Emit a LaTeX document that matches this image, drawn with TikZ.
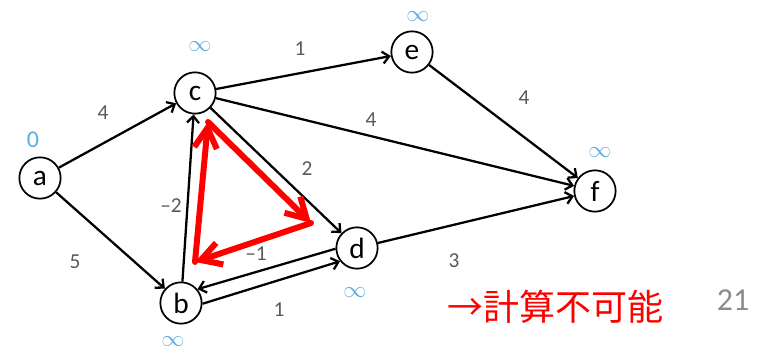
\documentclass[tikz,border=0pt]{standalone}
\usepackage{fontspec}
\setmainfont{Carlito}
\newfontfamily\jpfont{Noto Sans CJK JP}
\usetikzlibrary{arrows.meta}
\definecolor{GRBlue}{HTML}{5BAFDF}
\definecolor{GRGray}{HTML}{595959}
\definecolor{GRPage}{HTML}{8C8C8C}
\definecolor{GRRed}{HTML}{FF0000}
\begin{document}
\begin{tikzpicture}[
  x=0.75pt,y=-0.75pt,
  vtx/.style={draw,circle,line width=1.3pt,minimum size=31pt,inner sep=0pt,font=\fontsize{22}{22}\selectfont},
  arr/.style={-{Straight Barb[length=5pt,width=9pt]},line width=1.7pt},
  wt/.style={text=GRGray,font=\fontsize{16}{16}\selectfont},
  dist/.style={text=GRBlue,inner sep=0pt,font=\fontsize{18}{18}\selectfont},
  cyc/.style={-{Straight Barb[length=15pt,width=17pt]},line width=4.5pt,draw=GRRed,line cap=round,line join=round}
]
\useasboundingbox (0,0) rectangle (758,346);
% vertices
\node[vtx] (a) at (40,178) {a};
\node[vtx] (c) at (195,93) {c};
\node[vtx] (e) at (412,52) {e};
\node[vtx] (f) at (595,191) {f};
\node[vtx] (d) at (357,248) {d};
\node[vtx] (b) at (181,303) {b};
% distances
\node[dist] (da) at (33,140) {0};
\node[dist] (dc) at (200,47) {$\infty$};
\node[dist] (de) at (418,17) {$\infty$};
\node[dist] (df) at (600,153) {$\infty$};
\node[dist] (dd) at (355,293) {$\infty$};
\node[dist] (db) at (173,342) {$\infty$};
% edges
\draw[arr] (a) -- (c);
\draw[arr] (a) -- (b);
\draw[arr] (c) -- (e);
\draw[arr] (c) -- (f);
\draw[arr] (c) -- (d);
\draw[arr] (b) -- (c);
\draw[arr] (d.182) -- (b.40);
\draw[arr] (b.358) -- (d.218);
\draw[arr] (e) -- (f);
\draw[arr] (d) -- (f);
% weights
\node[wt] (wac) at (103,113) {4};
\node[wt] (wab) at (75,262) {5};
\node[wt] (wce) at (300,49) {1};
\node[wt] (wcf) at (371,120) {4};
\node[wt] (wcd) at (307,169) {2};
\node[wt] (wbc) at (171,206) {--2};
\node[wt] (wdb) at (256,254) {--1};
\node[wt] (wbd) at (279,310) {1};
\node[wt] (wef) at (524,98) {4};
\node[wt] (wdf) at (454,261) {3};
% negative cycle
\coordinate (r1) at (208,122);
\coordinate (r2) at (311,223);
\coordinate (r3) at (195,262);
\draw[cyc] (r1) -- (r2);
\draw[cyc] (r2) -- (r3);
\draw[cyc] (r3) -- (r1);
\node[text=GRRed,font=\jpfont\fontsize{27}{27}\selectfont] (msg) at (555,307) {→計算不可能};
\node[text=GRPage,font=\fontsize{24}{24}\selectfont] (page) at (733,300) {21};
\end{tikzpicture}
\end{document}
